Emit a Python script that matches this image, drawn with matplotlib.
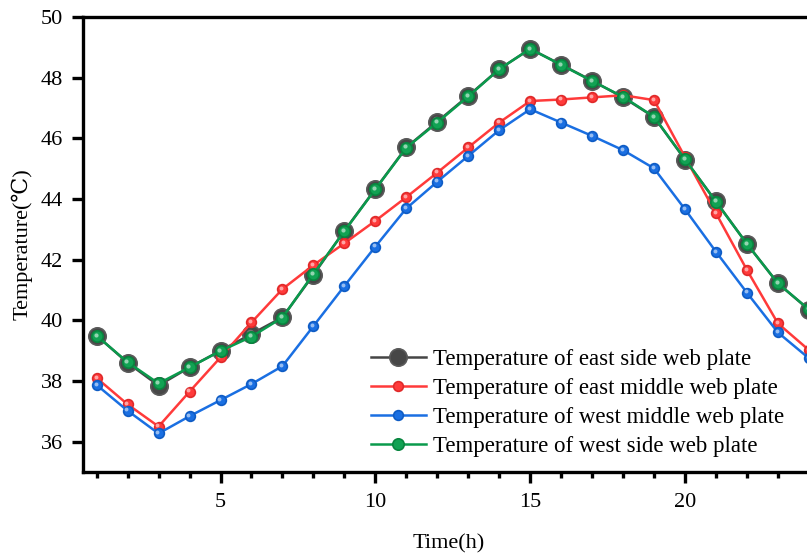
import matplotlib as mpl
import matplotlib.pyplot as plt
import numpy as np
from matplotlib.transforms import offset_copy

mpl.rcParams['font.family'] = ['Liberation Serif', 'DejaVu Serif']
mpl.rcParams['axes.unicode_minus'] = False

# data
hours = list(range(1, 25))
east_side = [39.5, 38.6, 37.85, 38.45, 39.0, 39.55, 40.1, 41.5, 42.95, 44.33, 45.7, 46.55,
             47.4, 48.28, 48.95, 48.43, 47.9, 47.35, 46.7, 45.3, 43.92, 42.52, 41.22, 40.35]
east_middle = [38.1, 37.23, 36.5, 37.65, 38.78, 39.93, 41.03, 41.82, 42.54, 43.28, 44.06, 44.87,
               45.7, 46.52, 47.23, 47.28, 47.35, 47.42, 47.26, 45.38, 43.53, 41.66, 39.9, 39.02]
west_middle = [37.87, 37.02, 36.27, 36.84, 37.37, 37.9, 38.49, 39.81, 41.13, 42.43, 43.69, 44.57,
               45.42, 46.27, 46.96, 46.52, 46.08, 45.61, 45.01, 43.66, 42.26, 40.91, 39.6, 38.75]
west_side = [39.49, 38.62, 37.92, 38.45, 38.99, 39.46, 40.09, 41.53, 42.94, 44.32, 45.69, 46.52,
             47.38, 48.28, 48.95, 48.42, 47.89, 47.37, 46.71, 45.31, 43.91, 42.52, 41.22, 40.36]

labels = [
    'Temperature of east side web plate',
    'Temperature of east middle web plate',
    'Temperature of west middle web plate',
    'Temperature of west side web plate',
]

W, H = 807, 553
fig = plt.figure(figsize=(W / 100, H / 100), dpi=100)
ax = fig.add_axes([82.7 / W, 1 - 472 / H, 1 - 82.7 / W + 0.01, (472 - 17) / H])

# (values, line color, face, edge, marker size, highlight size)
series = [
    (east_side, '#454545', '#474747', '#5a5a5a', 12.5, 5.5),
    (east_middle, '#ff3a3a', '#ff3a3a', '#e02a2a', 7.0, 2.8),
    (west_middle, '#1a6fe2', '#1a6fe2', '#0f5cc4', 7.0, 2.8),
    (west_side, '#0a9a4c', '#11a253', '#08853f', 8.2, 3.0),
]

hl_tr = offset_copy(ax.transData, fig=fig, x=-0.8, y=0.9, units='points')
for i, (vals, lc, fc, ec, ms, hs) in enumerate(series):
    ax.plot(hours, vals, '-o', color=lc, lw=1.8, ms=ms, mfc=fc, mec=ec, mew=1.2,
            label=labels[i], zorder=2 + i)
    hl_color = '#9a9a9a' if i == 0 else 'white'
    ax.plot(hours, vals, 'o', ls='none', ms=hs, mfc=hl_color, mec='none', alpha=0.55,
            transform=hl_tr, zorder=2.5 + i)

ax.set_xlim(0.55, 24.2)
ax.set_ylim(35, 50)
ax.set_xticks([5, 10, 15, 20])
ax.set_xticks(hours, minor=True)
ax.set_yticks(np.arange(36, 51, 2))

for s in ['left', 'bottom', 'top']:
    ax.spines[s].set_linewidth(2.4)
ax.spines['right'].set_visible(False)
ax.tick_params(which='major', direction='out', length=8, width=2.4, labelsize=16, pad=6)
ax.tick_params(axis='x', which='major', pad=7)
ax.tick_params(which='minor', direction='out', length=4.5, width=2.4)
ax.tick_params(axis='y', which='minor', left=False)

ax.set_xlabel('Time(h)', fontsize=16, labelpad=16)
ax.set_ylabel('Temperature(\u2103)', fontsize=16, labelpad=6)

ax.legend(loc='lower left', bbox_to_anchor=(0.381, 0.013), frameon=False, fontsize=16.5,
          handlelength=2.4, handletextpad=0.3, labelspacing=0.34, numpoints=1,
          borderaxespad=0)

fig.savefig('out.png', dpi=100)
